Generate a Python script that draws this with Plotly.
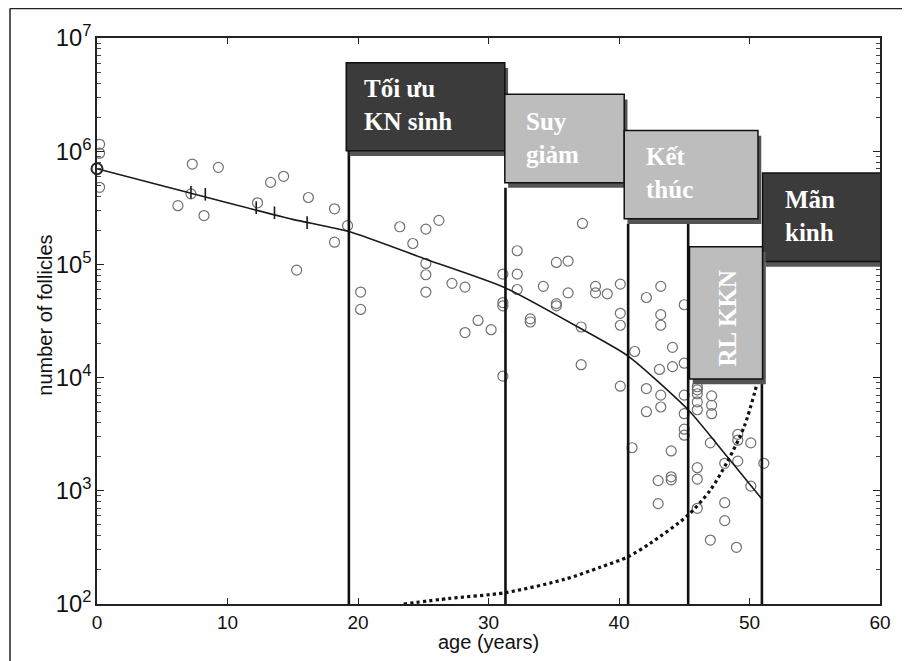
import math
import plotly.graph_objects as go

# ---------------- data ----------------
ages = [0.2, 0.2, 0.2, 7.3, 9.3, 7.2, 6.2, 8.2, 12.3, 13.3, 14.3, 16.2, 18.2, 18.2, 19.2, 15.3,
        23.2, 25.2, 26.2, 24.2, 25.2, 25.2, 25.2, 27.2, 28.2, 20.2, 20.2, 29.2, 28.2, 30.2,
        31.1, 31.1, 31.1, 31.1,
        32.2, 32.2, 32.2, 35.2, 36.1, 34.2, 36.1, 35.2, 35.2, 33.2, 33.2, 38.2, 38.2, 39.1,
        40.1, 40.1, 40.1, 37.1, 37.1, 40.1, 37.2,
        43.2, 42.1, 43.2, 43.2, 45.0, 41.2, 44.1, 44.1, 43.1, 45.0, 42.1, 43.2, 43.2, 42.1,
        45.0, 45.0, 46.0, 46.0, 46.0, 47.1, 47.1, 47.1, 46.0, 46.0, 45.0, 45.0, 41.0, 44.0,
        43.0, 44.0, 44.0, 43.0, 47.0, 49.1, 49.1, 50.1, 48.1, 49.1, 51.1, 46.0, 46.0, 50.1,
        46.0, 48.1, 48.1, 47.0, 49.0]
follicles = [1.15e6, 9.6e5, 4.8e5, 7.7e5, 7.2e5, 4.2e5, 3.3e5, 2.7e5, 3.5e5, 5.3e5, 6.0e5, 3.9e5, 3.1e5, 1.57e5, 2.2e5, 8.9e4,
             2.15e5, 2.05e5, 2.45e5, 1.53e5, 1.02e5, 8.1e4, 5.7e4, 6.8e4, 6.3e4, 5.7e4, 4.0e4, 3.2e4, 2.5e4, 2.65e4,
             8.2e4, 4.6e4, 4.3e4, 1.03e4,
             1.32e5, 8.2e4, 6.0e4, 1.04e5, 1.07e5, 6.4e4, 5.6e4, 4.5e4, 4.3e4, 3.3e4, 3.1e4, 6.4e4, 5.6e4, 5.5e4,
             6.7e4, 3.7e4, 2.9e4, 2.8e4, 1.3e4, 8.4e3, 2.3e5,
             6.4e4, 5.1e4, 3.6e4, 2.9e4, 4.4e4, 1.7e4, 1.85e4, 1.25e4, 1.18e4, 1.34e4, 8.0e3, 7.0e3, 5.5e3, 5.0e3,
             7.0e3, 4.8e3, 8.3e3, 7.8e3, 7.2e3, 6.9e3, 5.7e3, 4.8e3, 6.1e3, 5.2e3, 3.5e3, 3.1e3, 2.4e3, 2.25e3,
             1.23e3, 1.33e3, 1.25e3, 770, 2.65e3, 3.15e3, 2.8e3, 2.65e3, 1.75e3, 1.83e3, 1.75e3, 1.6e3, 1.27e3, 1.1e3,
             700, 785, 545, 367, 317]

start_age = [0.0]
start_val = [7.0e5]

model_age = [0, 5, 10, 15, 19.3, 25.3, 31.3, 37.1, 40.7, 45.3, 48.3, 50.9]
model_val = [7.0e5, 4.95e5, 3.5e5, 2.5e5, 1.95e5, 1.1e5, 6.2e4, 2.7e4, 1.55e4, 5.2e3, 2.0e3, 860]

tick_age = [7.2, 8.3, 12.2, 13.6, 16.1]
tick_val = [4.33e5, 4.16e5, 3.17e5, 2.86e5, 2.34e5]

dotted_age = [23.5, 27.0, 31.3, 35.8, 38.6, 40.7, 42.4, 45.3, 47.0, 48.3, 49.6, 50.65]
dotted_val = [100, 112, 126, 165, 212, 262, 344, 611, 1016, 1807, 3700, 9500]

# stage boxes: label, x0, x1, y0, y1 (age, follicles), fill
stage_labels = ["Tối ưu<br>KN sinh", "Suy<br>giảm", "Kết<br>thúc", "Mãn<br>kinh", "RL KKN"]
box_x0 = [19.1, 31.25, 40.4, 51.0, 45.4]
box_x1 = [31.25, 40.4, 50.65, 60.3, 51.0]
box_ylo = [1.01e6, 5.27e5, 2.53e5, 1.06e5, 9.7e3]
box_yhi = [6.05e6, 3.18e6, 1.52e6, 6.41e5, 1.43e5]
box_fill = ["#3b3b3b", "#bdbdbd", "#bdbdbd", "#3b3b3b", "#bdbdbd"]

# vertical stage boundaries: age, top (follicles)
bound_age = [19.3, 31.3, 40.7, 45.3, 50.95]
bound_top = [1.01e6, 4.75e5, 2.28e5, 2.28e5, 1.0e5]

fig = go.Figure()

fig.add_trace(go.Scatter(x=ages, y=follicles, mode="markers",
                         marker=dict(symbol="circle-open", size=10, color="#707070",
                                     line=dict(width=1.2)),
                         showlegend=False, hoverinfo="skip"))
fig.add_trace(go.Scatter(x=model_age, y=model_val, mode="lines",
                         line=dict(color="#1a1a1a", width=1.6, shape="spline", smoothing=0.6),
                         showlegend=False, hoverinfo="skip"))
fig.add_trace(go.Scatter(x=tick_age, y=tick_val, mode="markers",
                         marker=dict(symbol="line-ns", size=9, color="#1a1a1a",
                                     line=dict(width=1.6, color="#1a1a1a")),
                         showlegend=False, hoverinfo="skip"))
fig.add_trace(go.Scatter(x=start_age, y=start_val, mode="markers",
                         marker=dict(symbol="circle-open", size=11, color="#222",
                                     line=dict(width=2)),
                         showlegend=False, hoverinfo="skip", cliponaxis=False))
fig.add_trace(go.Scatter(x=dotted_age, y=dotted_val, mode="lines",
                         line=dict(color="#111", width=3.2, dash="dot", shape="spline", smoothing=0.8),
                         showlegend=False, hoverinfo="skip"))

shapes = []
for a, top in zip(bound_age, bound_top):
    shapes.append(dict(type="line", xref="x", yref="y", x0=a, x1=a, y0=100, y1=top,
                       line=dict(color="#111", width=2.6), layer="above"))

ann = []
for i, lab in enumerate(stage_labels):
    # drop shadow
    shapes.append(dict(type="rect", xref="x", yref="y",
                       x0=box_x0[i] + 0.25, x1=box_x1[i] + 0.25,
                       y0=box_ylo[i] * 0.9, y1=box_yhi[i] * 0.9,
                       fillcolor="#555", line=dict(width=0), layer="above"))
    shapes.append(dict(type="rect", xref="x", yref="y",
                       x0=box_x0[i], x1=box_x1[i], y0=box_ylo[i], y1=box_yhi[i],
                       fillcolor=box_fill[i], line=dict(color="#111", width=1.5), layer="above"))

txt_font = dict(family="Liberation Serif, Times New Roman, serif", size=25, color="white")
ann.append(dict(x=20.3, y=6.41, xref="x", yref="y", text="<b>Tối ưu<br>KN sinh</b>", showarrow=False,
                xanchor="left", yanchor="middle", align="left", font=txt_font))
ann.append(dict(x=32.7, y=6.12, xref="x", yref="y", text="<b>Suy<br>giảm</b>", showarrow=False,
                xanchor="left", yanchor="middle", align="left", font=txt_font))
ann.append(dict(x=41.9, y=5.81, xref="x", yref="y", text="<b>Kết<br>thúc</b>", showarrow=False,
                xanchor="left", yanchor="middle", align="left", font=txt_font))
ann.append(dict(x=52.6, y=5.43, xref="x", yref="y", text="<b>Mãn<br>kinh</b>", showarrow=False,
                xanchor="left", yanchor="middle", align="left", font=txt_font))
ann.append(dict(x=48.35, y=4.53, xref="x", yref="y", text="<b>RL KKN</b>", showarrow=False,
                textangle=-90, xanchor="center", yanchor="middle", font=txt_font))

# axis titles as paper annotations
title_font = dict(family="Liberation Sans, Arial, sans-serif", size=20, color="#111")
ann.append(dict(x=0.5, y=-0.068, xref="paper", yref="paper", text="age (years)", showarrow=False,
                xanchor="center", yanchor="middle", font=title_font))
ann.append(dict(x=-0.066, y=0.51, xref="paper", yref="paper", text="number of follicles", showarrow=False,
                textangle=-90, xanchor="center", yanchor="middle", font=title_font))

# outer frame (left and top edges)
shapes.append(dict(type="line", xref="paper", yref="paper", x0=-0.1111, x1=-0.1111, y0=1.0521, y1=-0.12,
                   line=dict(color="#222", width=1.5)))
shapes.append(dict(type="line", xref="paper", yref="paper", x0=-0.1111, x1=1.05, y0=1.0521, y1=1.0521,
                   line=dict(color="#222", width=1.5)))

axis_font = dict(family="Liberation Sans, Arial, sans-serif", size=19, color="#111")
fig.update_layout(
    width=902, height=653,
    margin=dict(l=89, r=30, t=30, b=57),
    paper_bgcolor="white", plot_bgcolor="white",
    shapes=shapes, annotations=ann,
    xaxis=dict(range=[0, 60], tickvals=[0, 10, 20, 30, 40, 50, 60], ticks="inside", ticklen=6,
               tickwidth=1.3, tickcolor="#222", showline=True, linecolor="#222", linewidth=1.5,
               mirror="ticks", showgrid=False, zeroline=False, tickfont=axis_font, automargin=False),
    yaxis=dict(type="log", range=[2, 7], dtick=1, exponentformat="power", ticks="inside", ticklen=7,
               tickwidth=1.3, tickcolor="#222", showline=True, linecolor="#222", linewidth=1.5,
               mirror="ticks", showgrid=False, zeroline=False, tickfont=axis_font, automargin=False,
               minor=dict(ticks="inside", ticklen=4, tickcolor="#444", dtick="D1", showgrid=False)),
)

fig.write_html("out.html")
